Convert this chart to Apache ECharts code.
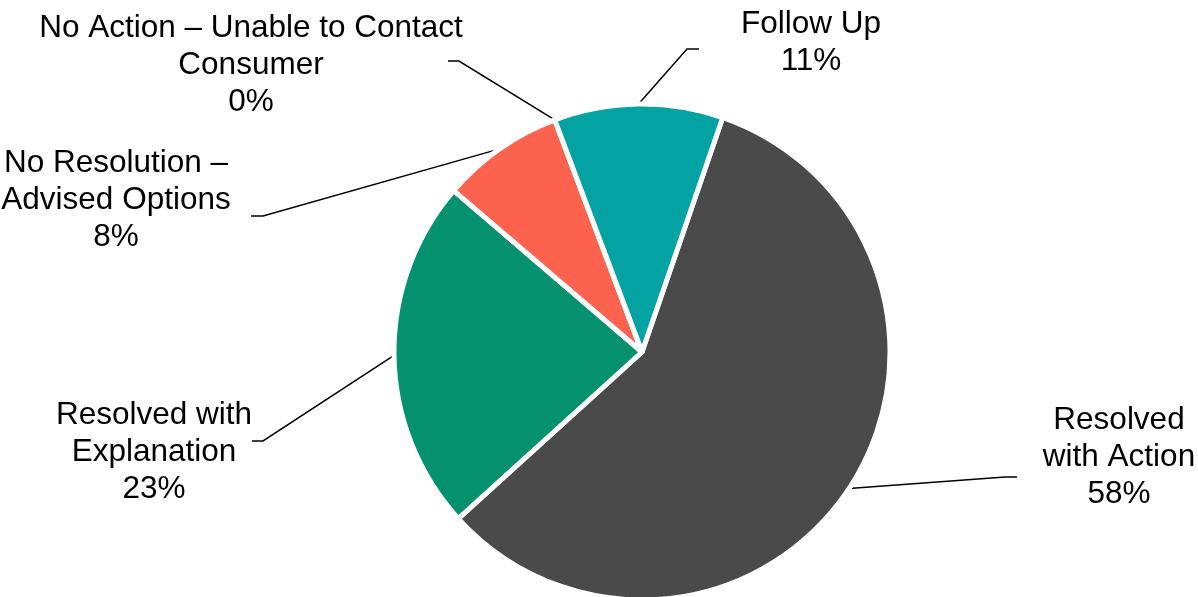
<!DOCTYPE html>
<html>
<head>
<meta charset="utf-8">
<script src="https://cdn.jsdelivr.net/npm/echarts@6/dist/echarts.min.js"></script>
<style>
html,body{margin:0;padding:0;background:#fff;}
#c{width:1198px;height:597px;}
</style>
</head>
<body>
<div id="c"></div>
<script>
const categories = [
  'Resolved\nwith Action',
  'Resolved with\nExplanation',
  'No Resolution –\nAdvised Options',
  'No Action – Unable to Contact\nConsumer',
  'Follow Up'
];
const values = [58, 23, 8, 0, 11];
const colors = ['#4a4a4a', '#03916e', '#fd624e', '#4a4a4a', '#04a3a3'];

// label block centres and leader-line elbows (layout only)
const labelPos = [
  [1119, 457],
  [154, 452],
  [116, 200],
  [251, 65],
  [811, 43]
];
// [elbow x, stub end x, y]
const leaderStub = [
  [1005, 1017, 477],
  [263, 252, 441],
  [263, 251, 216],
  [459, 448, 61],
  [687, 699, 49]
];

const chart = echarts.init(document.getElementById('c'), null, {renderer: 'canvas'});
chart.setOption({
  animation: false,
  backgroundColor: '#ffffff',
  series: [{
    type: 'pie',
    center: [642, 352],
    radius: [0, 248],
    startAngle: 71,
    clockwise: true,
    avoidLabelOverlap: false,
    data: categories.map((c, i) => ({
      name: c,
      value: values[i],
      itemStyle: {color: colors[i]}
    })),
    itemStyle: {borderColor: '#ffffff', borderWidth: 5},
    label: {
      show: true,
      formatter: '{b}\n{d}%',
      fontFamily: 'Liberation Sans, Arial, sans-serif',
      fontSize: 31.5,
      lineHeight: 37,
      color: '#000000',
      align: 'center'
    },
    labelLine: {
      show: true,
      length: 20,
      length2: 10,
      lineStyle: {color: '#000000', width: 1.5}
    },
    labelLayout: function (params) {
      const i = params.dataIndex;
      const p = labelPos[i];
      const s = leaderStub[i];
      const res = {x: p[0], y: p[1], align: 'center', verticalAlign: 'middle', moveOverlap: null};
      if (params.labelLinePoints && params.labelLinePoints.length) {
        const a = params.labelLinePoints[0];
        res.labelLinePoints = [[a[0], a[1]], [s[0], s[2]], [s[1], s[2]]];
      }
      return res;
    },
    emphasis: {disabled: true}
  }]
});
</script>
</body>
</html>
